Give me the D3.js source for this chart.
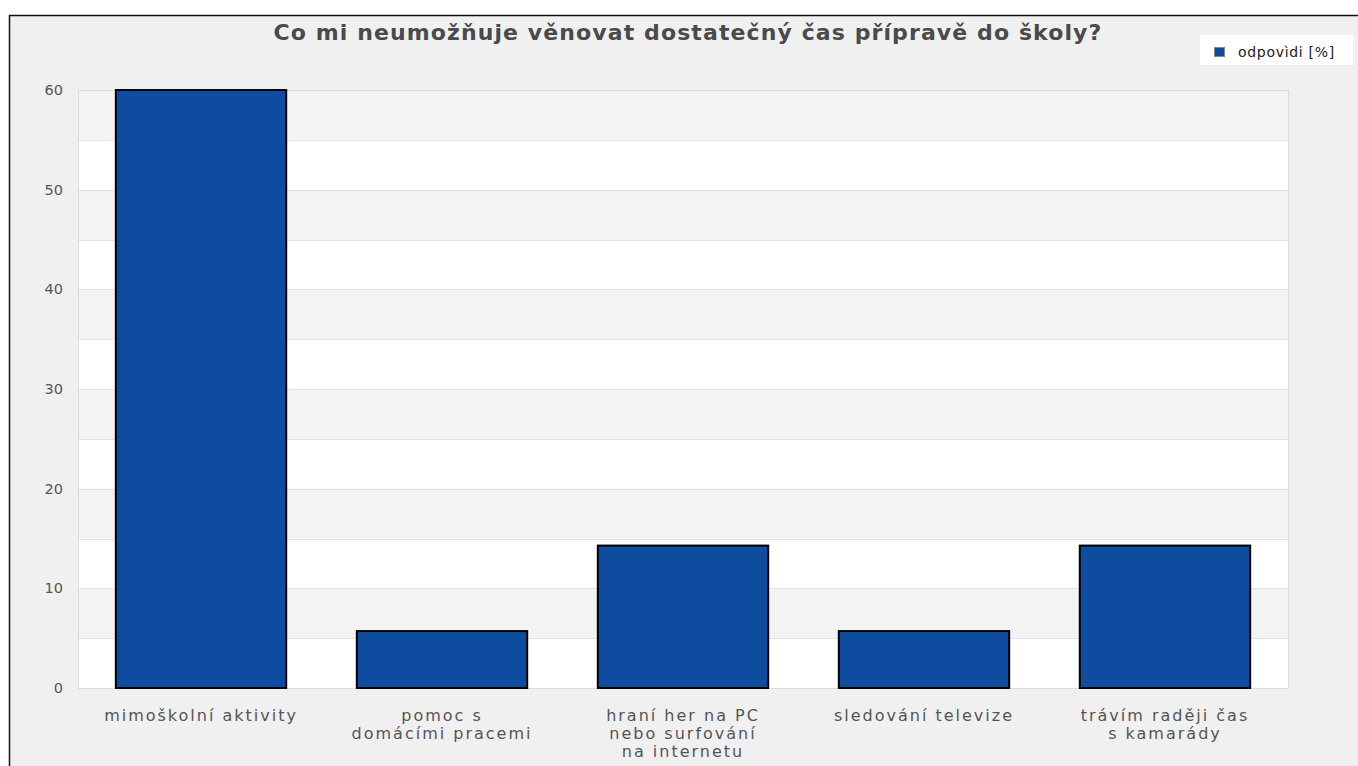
<!DOCTYPE html>
<html><head><meta charset="utf-8">
<script src="https://cdn.jsdelivr.net/npm/d3@7"></script>
<style>body{margin:0;background:#fff;}svg{display:block;}</style>
</head><body>
<svg id="c" width="1358" height="766"></svg>
<script>
const title = "Co mi neumožňuje věnovat dostatečný čas přípravě do školy?";
const categories = [
  ["mimoškolní aktivity"],
  ["pomoc s", "domácími pracemi"],
  ["hraní her na PC", "nebo surfování", "na internetu"],
  ["sledování televize"],
  ["trávím raději čas", "s kamarády"]
];
const values = [60, 5.71, 14.29, 5.71, 14.29];
const seriesName = "odpovìdi [%]";
const yTicks = [0, 10, 20, 30, 40, 50, 60];

const svg = d3.select("#c");
const W = 1358, H = 766;
const m = {left: 78, right: 70, top: 90, bottom: 78};
const x0 = m.left, x1 = W - m.right, y0 = H - m.bottom, y1 = m.top;

svg.append("rect").attr("x", 9.5).attr("y", 15.5).attr("width", 1370).attr("height", 800)
  .attr("fill", "#f0f0f0").attr("stroke", "#111").attr("stroke-width", 1.5);

const x = d3.scaleBand().domain(d3.range(categories.length)).range([x0, x1]).paddingInner(0.293).paddingOuter(0.157);
const y = d3.scaleLinear().domain([0, 60]).range([y0, y1]);

// bands
const bandEdges = d3.range(0, 60, 5);
svg.append("g").selectAll("rect").data(bandEdges).join("rect")
  .attr("x", x0).attr("width", x1 - x0)
  .attr("y", d => y(d + 5)).attr("height", d => y(d) - y(d + 5))
  .attr("fill", d => (d / 5) % 2 === 0 ? "#ffffff" : "#f3f3f3");
svg.append("g").selectAll("line").data(d3.range(5, 60, 5)).join("line")
  .attr("x1", x0).attr("x2", x1).attr("y1", d => Math.round(y(d)) + 0.5).attr("y2", d => Math.round(y(d)) + 0.5)
  .attr("stroke", "#e2e2e2").attr("stroke-width", 1);
svg.append("rect").attr("x", x0 + 0.5).attr("y", y1 + 0.5).attr("width", x1 - x0).attr("height", y0 - y1)
  .attr("fill", "none").attr("stroke", "#dcdcdc");

// y axis
const yAxis = svg.append("g").attr("transform", `translate(${x0 - 15},0)`)
  .call(d3.axisLeft(y).tickValues(yTicks).tickSize(0).tickPadding(0));
yAxis.select(".domain").remove();
yAxis.selectAll("text").attr("font-family", "DejaVu Sans").attr("font-size", 14.5).attr("fill", "#555");

// bars
svg.append("g").selectAll("rect").data(values).join("rect")
  .attr("x", (d, i) => x(i)).attr("width", x.bandwidth())
  .attr("y", d => y(d)).attr("height", d => y(0) - y(d))
  .attr("fill", "#0d4c9e").attr("stroke", "#000").attr("stroke-width", 2);

// x labels
const xl = svg.append("g").selectAll("text").data(categories).join("text")
  .attr("x", (d, i) => x(i) + x.bandwidth() / 2).attr("y", 721)
  .attr("text-anchor", "middle").attr("font-family", "DejaVu Sans").attr("font-size", 16)
  .attr("fill", "#555").attr("letter-spacing", 2);
xl.selectAll("tspan").data(d => d).join("tspan")
  .attr("x", function() { return this.parentNode.getAttribute("x"); })
  .attr("dy", (d, i) => i === 0 ? 0 : 18).text(d => d);

// title
svg.append("text").attr("x", 688).attr("y", 40).attr("text-anchor", "middle")
  .attr("font-family", "DejaVu Sans").attr("font-weight", "bold").attr("font-size", 22)
  .attr("letter-spacing", 1.1)
  .attr("fill", "#4a4a4a").text(title);

// legend
const lg = svg.append("g");
lg.append("rect").attr("x", 1200).attr("y", 35).attr("width", 153).attr("height", 30).attr("fill", "#fff");
lg.append("rect").attr("x", 1214.5).attr("y", 47.5).attr("width", 10).attr("height", 9).attr("fill", "#0d4c9e").attr("stroke", "#888").attr("stroke-width", 1);
lg.append("text").attr("x", 1238).attr("y", 57).attr("font-family", "DejaVu Sans").attr("font-size", 14).attr("letter-spacing", 0.7).attr("fill", "#222").text(seriesName);
</script>
</body></html>
